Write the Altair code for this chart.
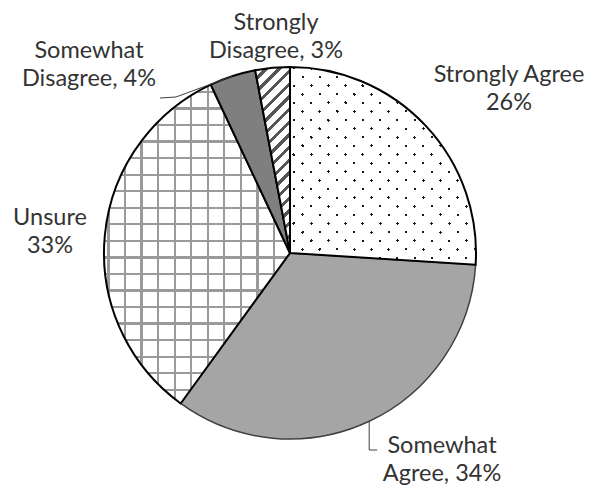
import math
import altair as alt
import pandas as pd

# ---- data ----
categories = ["Strongly Agree", "Somewhat Agree", "Unsure", "Somewhat Disagree", "Strongly Disagree"]
percents = [26, 34, 33, 4, 3]
label_templates = [
    "Strongly Agree\n{p}%",
    "Somewhat\nAgree, {p}%",
    "Unsure\n{p}%",
    "Somewhat\nDisagree, {p}%",
    "Strongly\nDisagree, {p}%",
]

# ---- layout (pixels, chart coordinates; first-line centre of each label) ----
W_CHART, H_CHART = 581, 482
CX, CY, R = 282, 245, 186
label_pos = {
    "Strongly Agree": (501, 67),
    "Somewhat Agree": (434, 438),
    "Unsure": (42, 210),
    "Somewhat Disagree": (81, 43),
    "Strongly Disagree": (268, 15),
}
FONT = "Lato"
FONT_SIZE = 23.5
LINE_HEIGHT = 28
TEXT_COLOR = "#333333"
# the rendered gradient patterns come out at ~0.58x their nominal size
PAT = 1 / 0.58

total = sum(percents)
starts, ends, acc = [], [], 0
for v in percents:
    starts.append(acc)
    acc += v
    ends.append(acc)

df = pd.DataFrame({"category": categories, "value": percents, "start": starts, "end": ends})
theta_scale = alt.Scale(domain=[0, total])


def point(deg, r=R):
    a = math.radians(deg)
    return CX + r * math.sin(a), CY - r * math.cos(a)


def piece_bbox(v0, v1):
    pts = [(CX, CY), point(v0 / total * 360), point(v1 / total * 360)]
    xs = [p[0] for p in pts]
    ys = [p[1] for p in pts]
    return min(xs), min(ys), max(xs) - min(xs), max(ys) - min(ys)


def pieces(cat):
    i = categories.index(cat)
    a, b = starts[i], ends[i]
    cuts = [total * k / 4 for k in range(1, 4)]
    pts = [a] + [c for c in cuts if a < c < b] + [b]
    return list(zip(pts[:-1], pts[1:]))


CLEAR = "rgba(255,255,255,0)"
SQ2 = math.sqrt(2)


def stripes(kind, period, line, line_color, gap_color, box, phase=0.0):
    period *= PAT
    line *= PAT
    x0, y0, W, H = box
    if kind == "h":
        L = H
        vec = dict(x1=0, y1=0, x2=0.000001, y2=1)
        origin = y0
    elif kind == "v":
        L = W
        vec = dict(x1=0, y1=0, x2=1, y2=0.000001)
        origin = x0
    elif kind == "d":  # "///"
        s = (W + H) / (W * W + H * H)
        vec = dict(x1=0, y1=0, x2=round(W * s, 6), y2=round(H * s, 6))
        L = (W + H) / SQ2
        origin = (x0 + y0) / SQ2
    else:  # "\\\\"
        s = (W + H) / (W * W + H * H)
        vec = dict(x1=0, y1=1, x2=round(W * s, 6), y2=round(1 - H * s, 6))
        L = (W + H) / SQ2
        origin = (x0 - (y0 + H)) / SQ2
    pos = (phase - origin) % period - period
    stops = [{"offset": 0, "color": gap_color}]
    while pos < L:
        a = max(pos, 0) / L
        b = min(max(pos + line, 0), L) / L
        if b > 0:
            stops += [
                {"offset": round(a, 6), "color": gap_color},
                {"offset": round(a, 6), "color": line_color},
                {"offset": round(b, 6), "color": line_color},
                {"offset": round(b, 6), "color": gap_color},
            ]
        pos += period
    stops.append({"offset": 1, "color": gap_color})
    g = {"gradient": "linear", "stops": stops}
    g.update(vec)
    return g


def arc(cat, **kw):
    return (
        alt.Chart(df)
        .transform_filter(alt.datum.category == cat)
        .mark_arc(radius=R, **kw)
        .encode(
            theta=alt.Theta("start:Q", scale=theta_scale),
            theta2="end:Q",
            x=alt.value(CX),
            y=alt.value(CY),
        )
    )


def pattern_layers(cat, specs):
    out = []
    for v0, v1 in pieces(cat):
        box = piece_bbox(v0, v1)
        pdf = pd.DataFrame({"start": [v0], "end": [v1]})
        for spec in specs:
            out.append(
                alt.Chart(pdf)
                .mark_arc(radius=R, fill=stripes(*spec[:5], box, spec[5]))
                .encode(
                    theta=alt.Theta("start:Q", scale=theta_scale),
                    theta2="end:Q",
                    x=alt.value(CX),
                    y=alt.value(CY),
                )
            )
    return out


def outline(cat):
    return arc(cat, fill="white", fillOpacity=0, stroke="black", strokeWidth=2)


layers = []
# Somewhat Agree: solid grey, thin outline
layers.append(arc("Somewhat Agree", fill="#a5a5a5", stroke="#404040", strokeWidth=1.5))

# Strongly Agree: staggered dots
layers.append(arc("Strongly Agree", fill="#1a1a1a"))
layers += pattern_layers("Strongly Agree", [
    ("d", 7.07, 1.25, CLEAR, "white", 0.0),
    ("b", 7.07, 1.25, CLEAR, "white", 0.0),
])
layers.append(outline("Strongly Agree"))

# Unsure: grid
layers.append(arc("Unsure", fill="white"))
layers += pattern_layers("Unsure", [
    ("v", 9.6, 1.3, "#9a9a9a", CLEAR, 0.0),
    ("h", 9.6, 1.3, "#9a9a9a", CLEAR, 0.0),
])
layers.append(outline("Unsure"))

# Somewhat Disagree: dark grey
layers.append(arc("Somewhat Disagree", fill="#7f7f7f", stroke="black", strokeWidth=2))

# Strongly Disagree: diagonal hatch
layers.append(arc("Strongly Disagree", fill="white"))
layers += pattern_layers("Strongly Disagree", [
    ("d", 5.2, 1.8, "#555555", CLEAR, 0.0),
])
layers.append(outline("Strongly Disagree"))


# ---- leader lines ----
def mid_deg(cat):
    i = categories.index(cat)
    return (starts[i] + ends[i]) / 2 / total * 360


ex, ey = point(mid_deg("Somewhat Agree"))
sdx, sdy = point(mid_deg("Somewhat Disagree"))
leaders = pd.DataFrame(
    [
        {"g": "a", "i": 0, "x": ex, "y": ey},
        {"g": "a", "i": 1, "x": ex, "y": 442},
        {"g": "a", "i": 2, "x": ex + 8, "y": 442},
        {"g": "b", "i": 0, "x": 152, "y": 90},
        {"g": "b", "i": 1, "x": 168, "y": 89},
        {"g": "b", "i": 2, "x": sdx, "y": sdy},
    ]
)
layers.append(
    alt.Chart(leaders)
    .mark_line(color="#404040", strokeWidth=1)
    .encode(
        x=alt.X("x:Q", scale=None, axis=None),
        y=alt.Y("y:Q", scale=None, axis=None),
        detail="g:N",
        order="i:Q",
    )
)

# ---- labels ----
labels = pd.DataFrame(
    {
        "text": [t.format(p=p) for t, p in zip(label_templates, percents)],
        "lx": [label_pos[c][0] for c in categories],
        "ly": [label_pos[c][1] for c in categories],
    }
)
layers.append(
    alt.Chart(labels)
    .mark_text(font=FONT, fontSize=FONT_SIZE, lineHeight=LINE_HEIGHT, align="center",
               baseline="middle", lineBreak="\n", color=TEXT_COLOR)
    .encode(
        x=alt.X("lx:Q", scale=None, axis=None),
        y=alt.Y("ly:Q", scale=None, axis=None),
        text="text:N",
    )
)

chart = (
    alt.layer(*layers)
    .properties(width=W_CHART, height=H_CHART, padding=0, autosize="none", background="white")
    .configure_view(stroke=None)
)

chart.save("out.html", embed_options={"renderer": "svg", "actions": False})
